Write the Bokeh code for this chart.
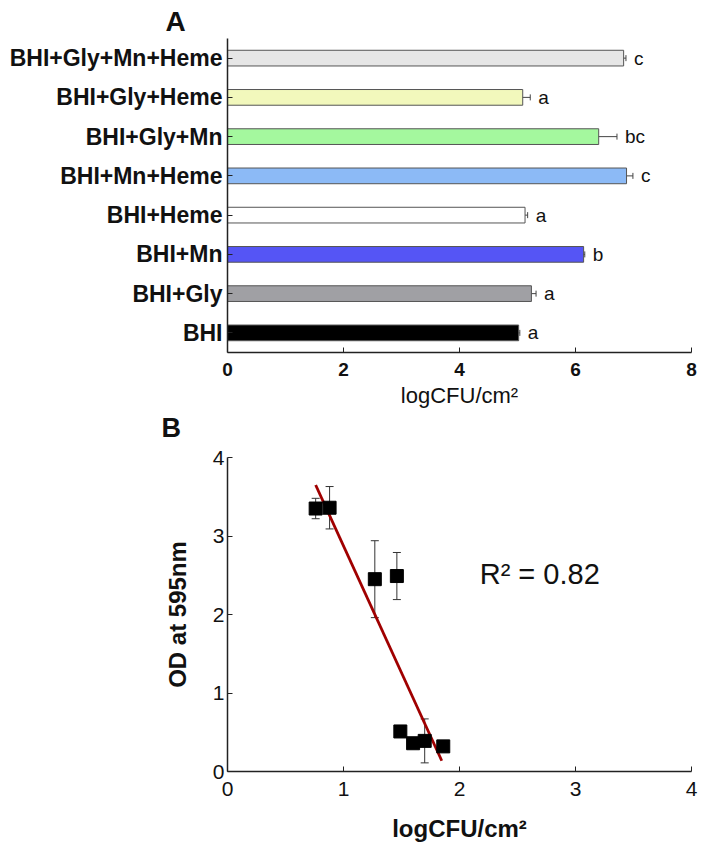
from bokeh.plotting import figure
from bokeh.layouts import column
from bokeh.models import (ColumnDataSource, FactorRange, Range1d, FixedTicker,
                          Whisker, TeeHead, Label, Title)
from bokeh.embed import file_html
from bokeh.resources import INLINE
from bokeh.core.properties import value
import numpy as np

# ---------------- Panel A data ----------------
categories = ["BHI", "BHI+Gly", "BHI+Mn", "BHI+Heme", "BHI+Mn+Heme",
              "BHI+Gly+Mn", "BHI+Gly+Heme", "BHI+Gly+Mn+Heme"]
log_cfu = [5.02, 5.24, 6.14, 5.13, 6.88, 6.40, 5.09, 6.83]
log_cfu_err = [0.02, 0.08, 0.02, 0.045, 0.11, 0.315, 0.13, 0.04]
letters = ["a", "a", "b", "a", "c", "bc", "a", "c"]
bar_colors = ["#000000", "#a0a0a4", "#5555f5", "#ffffff", "#8cbaf6",
              "#a4f89e", "#f2f8bc", "#e6e6e6"]
x_ticks_a = [0, 2, 4, 6, 8]

# ---------------- Panel B data ----------------
cfu_x = [0.76, 0.88, 1.27, 1.46, 1.49, 1.60, 1.70, 1.86]
od_y = [3.35, 3.36, 2.45, 2.49, 0.51, 0.36, 0.39, 0.32]
od_err = [0.13, 0.27, 0.49, 0.30, 0.05, 0.02, 0.28, 0.02]
r2_text = "R\u00b2 = 0.82"
ticks_b = [0, 1, 2, 3, 4]

FONT = "Liberation Sans"
AXIS_COLOR = "#222222"
TXT = "#111111"

# ---------------- Panel A ----------------
pa = figure(width=702, height=444, output_backend="svg", toolbar_location=None,
            y_range=FactorRange(*categories, range_padding=0),
            x_range=Range1d(0, 8),
            min_border_left=221, min_border_right=11,
            min_border_top=38, min_border_bottom=92)
pa.outline_line_color = None
pa.xgrid.grid_line_color = None
pa.ygrid.grid_line_color = None

pa.title.text = "A"
pa.title.text_font = FONT
pa.title.text_font_size = "28px"
pa.title.text_font_style = "bold"
pa.title.text_color = TXT
pa.title.align = "left"
pa.title.offset = -62
pa.title.standoff = 0
pa.title.vertical_align = "top"

src_a = ColumnDataSource(dict(cat=categories, v=log_cfu, err=log_cfu_err,
                              lo=[v - e for v, e in zip(log_cfu, log_cfu_err)],
                              hi=[v + e for v, e in zip(log_cfu, log_cfu_err)],
                              let=letters, col=bar_colors))
pa.hbar(y="cat", right="v", left=0, height=0.4, source=src_a,
        fill_color="col", line_color="#555555", line_width=1)
wa = Whisker(base="cat", lower="lo", upper="hi", dimension="width", source=src_a,
             line_color="#444444", line_width=1,
             upper_head=TeeHead(size=6, line_color="#444444", line_width=1),
             lower_head=TeeHead(size=6, line_color="#444444", line_width=1))
pa.add_layout(wa)
pa.text(x="hi", y="cat", text="let", source=src_a, x_offset=8,
        text_align="left", text_baseline="middle",
        text_font=value(FONT), text_font_size="19px", text_color=TXT)

for ax in (pa.xaxis[0], pa.yaxis[0]):
    ax.axis_line_color = AXIS_COLOR
    ax.axis_line_width = 1.5
    ax.major_tick_in = 5
    ax.major_tick_out = 0
    ax.major_tick_line_color = AXIS_COLOR
    ax.minor_tick_line_color = None
    ax.major_label_text_font = FONT
    ax.major_label_text_font_style = "bold"
    ax.major_label_text_color = TXT

pa.yaxis.major_label_text_font_size = "23px"
pa.yaxis.major_label_standoff = 5
pa.xaxis.ticker = FixedTicker(ticks=x_ticks_a)
pa.xaxis.major_label_text_font_size = "19px"
pa.xaxis.major_label_standoff = 10
pa.xaxis.axis_label = "logCFU/cm\u00b2"
pa.xaxis.axis_label_text_font = FONT
pa.xaxis.axis_label_text_font_style = "normal"
pa.xaxis.axis_label_text_font_size = "22px"
pa.xaxis.axis_label_text_color = TXT
pa.xaxis.axis_label_standoff = 4

title_b = Title(text="B", text_font=FONT, text_font_size="27px",
                text_font_style="bold", text_color=TXT, align="left",
                offset=-66, standoff=0)
pa.add_layout(title_b, "below")

# ---------------- Panel B ----------------
pb = figure(width=702, height=411, output_backend="svg", toolbar_location=None,
            x_range=Range1d(0, 4), y_range=Range1d(0, 4),
            min_border_left=227, min_border_right=6,
            min_border_top=13, min_border_bottom=84)
pb.outline_line_color = None
pb.xgrid.grid_line_color = None
pb.ygrid.grid_line_color = None

src_b = ColumnDataSource(dict(x=cfu_x, y=od_y,
                              lo=[v - e for v, e in zip(od_y, od_err)],
                              hi=[v + e for v, e in zip(od_y, od_err)]))
wb = Whisker(base="x", lower="lo", upper="hi", dimension="height", source=src_b,
             line_color="#333333", line_width=1,
             upper_head=TeeHead(size=8, line_color="#333333", line_width=1),
             lower_head=TeeHead(size=8, line_color="#333333", line_width=1))
pb.add_layout(wb)

slope, intercept = np.polyfit(cfu_x, od_y, 1)
fit_x = [min(cfu_x), 1.847]
fit_y = [slope * v + intercept for v in fit_x]
pb.line(fit_x, fit_y, line_color="#a00000", line_width=2.8)

pb.scatter(x="x", y="y", source=src_b, marker="square", size=13,
           fill_color="#000000", line_color="#000000")

for ax in (pb.xaxis[0], pb.yaxis[0]):
    ax.axis_line_color = AXIS_COLOR
    ax.axis_line_width = 1.5
    ax.major_tick_in = 5
    ax.major_tick_out = 0
    ax.major_tick_line_color = AXIS_COLOR
    ax.minor_tick_line_color = None
    ax.ticker = FixedTicker(ticks=ticks_b)
    ax.major_label_text_font = FONT
    ax.major_label_text_font_size = "21px"
    ax.major_label_text_font_style = "normal"
    ax.major_label_text_color = TXT
    ax.axis_label_text_font = FONT
    ax.axis_label_text_font_size = "24px"
    ax.axis_label_text_font_style = "bold"
    ax.axis_label_text_color = TXT

pb.xaxis.axis_label = "logCFU/cm\u00b2"
pb.xaxis.major_label_standoff = 10
pb.xaxis.axis_label_standoff = 16
pb.yaxis.axis_label = "OD at 595nm"
pb.yaxis.major_label_standoff = 3
pb.yaxis.axis_label_standoff = 19

pb.add_layout(Label(x=2.174, y=2.52, text=r2_text, text_font=FONT,
                    text_font_size="29px", text_align="left",
                    text_baseline="alphabetic", text_color=TXT))

layout = column(pa, pb, spacing=0)
open("out.html", "w").write(file_html(layout, INLINE))
